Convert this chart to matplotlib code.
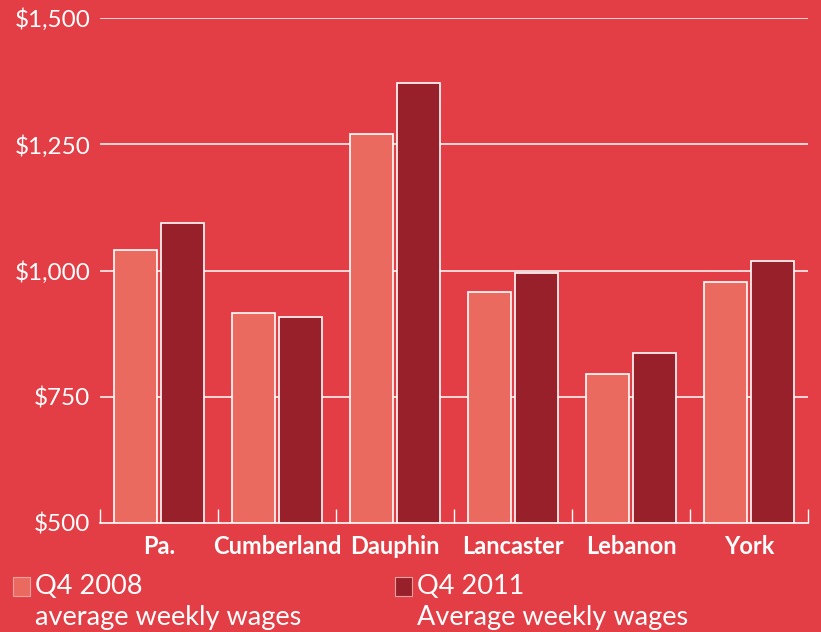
import numpy as np
import matplotlib.pyplot as plt
from matplotlib.patches import Rectangle

# data
counties = ['Pa.', 'Cumberland', 'Dauphin', 'Lancaster', 'Lebanon', 'York']
wages_2008 = [1040, 915, 1270, 957, 795, 977]
wages_2011 = [1094, 908, 1371, 995, 836, 1018]
y_ticks = [500, 750, 1000, 1250, 1500]
y_labels = ['$500', '$750', '$1,000', '$1,250', '$1,500']

bg = '#E33E45'
light = '#EA6A5F'
dark = '#97202A'

plt.rcParams['font.family'] = ['Lato', 'DejaVu Sans']

fig = plt.figure(figsize=(8.21, 6.32), dpi=100, facecolor=bg)
ax = fig.add_axes([100 / 821, 1 - 523 / 632, 708 / 821, 505 / 632])
ax.set_facecolor(bg)

x = np.arange(len(counties))
w = 0.36
ax.bar(x - 0.02 - w / 2, np.array(wages_2008) - 500, w, bottom=500,
       color=light, edgecolor='white', linewidth=1.2, zorder=3)
ax.bar(x + 0.02 + w / 2, np.array(wages_2011) - 500, w, bottom=500,
       color=dark, edgecolor='white', linewidth=1.2, zorder=3)

ax.set_xlim(-0.5, len(counties) - 0.5)
ax.set_ylim(500, 1500)
for t in y_ticks[1:]:
    ax.axhline(t, color='white', lw=1.1, zorder=1)

ax.set_yticks(y_ticks)
ax.set_yticklabels(y_labels)
ax.tick_params(axis='y', length=0, pad=7, labelsize=17.5, labelcolor='white')
ax.set_xticks(x)
ax.set_xticklabels(counties, fontweight='bold')
ax.tick_params(axis='x', length=0, pad=9, labelsize=17, labelcolor='white')
ax.set_xticks(np.arange(len(counties) + 1) - 0.5, minor=True)
ax.tick_params(axis='x', which='minor', direction='in', length=10, width=1,
               color='white')

for s in ['top', 'right', 'left']:
    ax.spines[s].set_visible(False)
ax.spines['bottom'].set_color('white')
ax.spines['bottom'].set_linewidth(1.2)

# legend drawn by hand
for lx, col, l1, l2 in [(13, light, 'Q4 2008', 'average weekly wages'),
                        (395, dark, 'Q4 2011', 'Average weekly wages')]:
    fig.patches.append(Rectangle((lx / 821, 1 - 596 / 632), 17 / 821, 19 / 632,
                                 transform=fig.transFigure, facecolor=col,
                                 edgecolor='#F0A0A0', lw=0.8))
    fig.text((lx + 22) / 821, 1 - 587 / 632, l1, color='white', fontsize=19.5,
             va='center', ha='left')
    fig.text((lx + 22) / 821, 1 - 617 / 632, l2, color='white', fontsize=19.5,
             va='center', ha='left')

fig.savefig('out.png', dpi=100, facecolor=bg)
